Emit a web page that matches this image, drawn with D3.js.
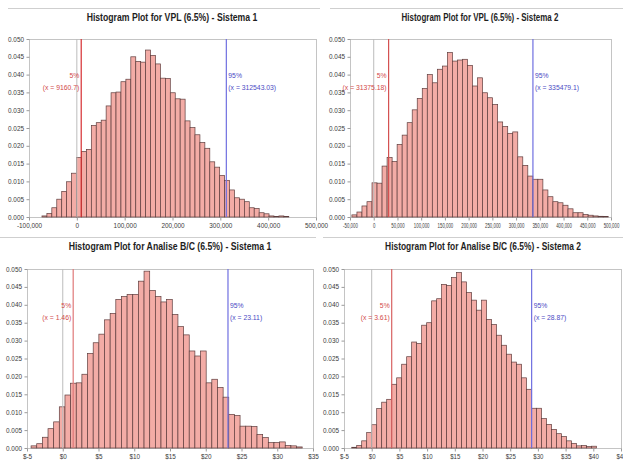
<!DOCTYPE html>
<html>
<head>
<meta charset="utf-8">
<script src="https://cdn.jsdelivr.net/npm/d3@7"></script>
<style>
  html, body { margin: 0; padding: 0; background: #fff; overflow: hidden; }
  svg { display: block; font-family: "Liberation Sans", Arial, sans-serif; }
</style>
</head>
<body>
<svg id="chart" width="623" height="461"></svg>
<script>
// ---- Data ---------------------------------------------------------------
const titles = [
  "Histogram Plot for VPL (6.5%) - Sistema 1",
  "Histogram Plot for VPL (6.5%) - Sistema 2",
  "Histogram Plot for Analise B/C (6.5%) - Sistema 1",
  "Histogram Plot for Analise B/C (6.5%) - Sistema 2"
];

// Relative frequency of each histogram bin
const vplS1Freq = [
  0.0003, 0.0010, 0.0026, 0.0050, 0.0072, 0.0099, 0.0123, 0.0167, 0.0184, 0.0190,
  0.0257, 0.0265, 0.0272, 0.0312, 0.0349, 0.0351, 0.0380, 0.0387, 0.0450, 0.0437,
  0.0435, 0.0469, 0.0454, 0.0430, 0.0390, 0.0389, 0.0349, 0.0332, 0.0331, 0.0270,
  0.0251, 0.0231, 0.0209, 0.0193, 0.0155, 0.0140, 0.0117, 0.0103, 0.0076, 0.0054,
  0.0050, 0.0043, 0.0026, 0.0024, 0.0012, 0.0009, 0.0003, 0.0001, 0.0003, 0.0001
];
const vplS2Freq = [
  0.0006, 0.0014, 0.0031, 0.0043, 0.0096, 0.0095, 0.0143, 0.0167, 0.0156, 0.0204,
  0.0230, 0.0265, 0.0301, 0.0333, 0.0361, 0.0400, 0.0377, 0.0415, 0.0424, 0.0462,
  0.0438, 0.0441, 0.0443, 0.0426, 0.0368, 0.0391, 0.0349, 0.0335, 0.0316, 0.0267,
  0.0254, 0.0235, 0.0239, 0.0169, 0.0145, 0.0115, 0.0106, 0.0106, 0.0076, 0.0057,
  0.0043, 0.0040, 0.0033, 0.0023, 0.0012, 0.0012, 0.0007, 0.0005, 0.0003, 0.0002,
  0.0001
];
const bcS1Freq = [
  0.0006, 0.0012, 0.0030, 0.0054, 0.0073, 0.0115, 0.0148, 0.0181, 0.0182, 0.0206,
  0.0264, 0.0294, 0.0318, 0.0358, 0.0376, 0.0415, 0.0423, 0.0429, 0.0429, 0.0466,
  0.0494, 0.0440, 0.0423, 0.0408, 0.0415, 0.0373, 0.0339, 0.0316, 0.0271, 0.0257,
  0.0271, 0.0182, 0.0192, 0.0169, 0.0142, 0.0094, 0.0091, 0.0061, 0.0061, 0.0060,
  0.0038, 0.0029, 0.0015, 0.0015, 0.0017, 0.0007, 0.0006, 0.0003
];
const bcS2Freq = [
  0.0002, 0.0007, 0.0020, 0.0043, 0.0065, 0.0110, 0.0128, 0.0136, 0.0178, 0.0196,
  0.0234, 0.0255, 0.0296, 0.0292, 0.0343, 0.0350, 0.0411, 0.0417, 0.0457, 0.0454,
  0.0476, 0.0490, 0.0464, 0.0434, 0.0413, 0.0385, 0.0413, 0.0359, 0.0345, 0.0315,
  0.0287, 0.0262, 0.0240, 0.0234, 0.0196, 0.0164, 0.0111, 0.0111, 0.0082, 0.0066,
  0.0052, 0.0040, 0.0032, 0.0020, 0.0013, 0.0006, 0.0007, 0.0004, 0.0005
];
const freqs = [vplS1Freq, vplS2Freq, bcS1Freq, bcS2Freq];

// Lower edge of the first bin and bin width for each histogram
const binStart = [-72900, -45970, -4.43, -3.61];
const binWidth = [10320, 10590, 0.79, 0.902];

// 5% and 95% percentiles
const p5  = [9160.7, 31375.18, 1.46, 3.61];
const p95 = [312543.03, 335479.1, 23.11, 28.87];

// Axis ranges and tick values
const xDomains = [[-100000, 500000], [-50000, 500000], [-5, 35], [-5, 45]];
const vplS1Ticks = [-100000, 0, 100000, 200000, 300000, 400000, 500000];
const vplS2Ticks = [-50000, 0, 50000, 100000, 150000, 200000, 250000, 300000, 350000, 400000, 450000, 500000];
const bcS1Ticks = [-5, 0, 5, 10, 15, 20, 25, 30, 35];
const bcS2Ticks = [-5, 0, 5, 10, 15, 20, 25, 30, 35, 40, 45];
const xTicks = [vplS1Ticks, vplS2Ticks, bcS1Ticks, bcS2Ticks];
const yTicks = [0, 0.005, 0.010, 0.015, 0.020, 0.025, 0.030, 0.035, 0.040, 0.045, 0.050];

// ---- Layout -------------------------------------------------------------
// tw: title width, xs: horizontal squeeze of x tick labels
const panels = [
  { x0: 29,  x1: 316, y0: 39,  y1: 217, tx: 172, ty: 20.5, tw: 171, xs: 1,    money: false, red: "#d62e30" },
  { x0: 350, x1: 611, y0: 39,  y1: 217, tx: 480, ty: 20.5, tw: 157, xs: 0.68, money: false, red: "#d45050" },
  { x0: 27,  x1: 313, y0: 269, y1: 448, tx: 170, ty: 250,  tw: 203, xs: 1,    money: true,  red: "#e07878" },
  { x0: 344, x1: 621, y0: 269, y1: 448, tx: 483, ty: 250,  tw: 196, xs: 0.95, money: true,  red: "#d86262" }
];

const fillBar = "#f3aca6", strokeBar = "#5e3d3d";
const blueLine = "#6f6fe0", zeroLine = "#bcbcbc";
const redText = "#d24a4a", blueText = "#4b4bc4";

const locale = d3.formatLocale({ decimal: ".", thousands: ",", grouping: [3], currency: ["$", ""], minus: "-" });
const fmtComma = locale.format(",");
const fmtY = locale.format(".3f");

const svg = d3.select("#chart");

// Separator rules above each row of charts
const rules = [
  [8, 320, 8], [330, 623, 8], [0, 316, 237], [323, 623, 237]
];
svg.selectAll("line.rule").data(rules).join("line")
  .attr("class", "rule")
  .attr("x1", d => d[0]).attr("x2", d => d[1])
  .attr("y1", d => d[2] + 0.5).attr("y2", d => d[2] + 0.5)
  .attr("stroke", "#cfcfcf").attr("stroke-width", 1);

panels.forEach((p, k) => {
  const g = svg.append("g");
  const x = d3.scaleLinear().domain(xDomains[k]).range([p.x0, p.x1]);
  const y = d3.scaleLinear().domain([0, 0.05]).range([p.y1, p.y0]);

  // Title, condensed horizontally to the panel's title width
  const title = g.append("text")
    .attr("text-anchor", "middle")
    .attr("font-size", 11).attr("font-weight", "bold")
    .attr("fill", "#1e1e1e")
    .text(titles[k]);
  const natural = title.node().getComputedTextLength();
  title.attr("transform", `translate(${p.tx},${p.ty}) scale(${p.tw / natural},1)`);

  // Plot frame
  g.append("rect")
    .attr("x", p.x0 + 0.5).attr("y", p.y0 + 0.5)
    .attr("width", p.x1 - p.x0).attr("height", p.y1 - p.y0)
    .attr("fill", "#fff").attr("stroke", "#c4c4c4").attr("stroke-width", 1);

  // Histogram bars
  const bins = freqs[k].map((f, i) => ({
    lo: binStart[k] + i * binWidth[k],
    hi: binStart[k] + (i + 1) * binWidth[k],
    f
  }));
  g.append("g").selectAll("rect").data(bins).join("rect")
    .attr("x", d => x(d.lo))
    .attr("width", d => x(d.hi) - x(d.lo))
    .attr("y", d => y(d.f))
    .attr("height", d => y(0) - y(d.f))
    .attr("fill", fillBar)
    .attr("stroke", strokeBar)
    .attr("stroke-width", 0.7);

  // Reference lines: zero, 5% and 95%
  const vline = (v, color, w) => g.append("line")
    .attr("x1", x(v)).attr("x2", x(v))
    .attr("y1", p.y0).attr("y2", p.y1)
    .attr("stroke", color).attr("stroke-width", w);
  vline(0, zeroLine, 1);
  vline(p5[k], p.red, 1.2);
  vline(p95[k], blueLine, 1.2);

  // Percentile annotations
  const ann = (v, txt, color, anchor, dx, dy) => g.append("text")
    .attr("x", x(v) + dx).attr("y", p.y0 + dy)
    .attr("text-anchor", anchor)
    .attr("font-size", 6.8).attr("fill", color)
    .text(txt);
  ann(p5[k], "5%", redText, "end", -2, 39);
  ann(p5[k], `(x = ${p5[k]})`, redText, "end", -2, 51);
  ann(p95[k], "95%", blueText, "start", 2, 39);
  ann(p95[k], `(x = ${p95[k]})`, blueText, "start", 2, 51);

  // Axes
  const xAxis = d3.axisBottom(x)
    .tickValues(xTicks[k])
    .tickSize(3).tickPadding(3)
    .tickFormat(v => p.money ? "$" + v : fmtComma(v));
  const ax = g.append("g").attr("transform", `translate(0,${p.y1 + 0.5})`).call(xAxis);

  const yAxis = d3.axisLeft(y)
    .tickValues(yTicks)
    .tickSize(3).tickPadding(2.5)
    .tickFormat(fmtY);
  const ay = g.append("g").attr("transform", `translate(${p.x0 + 0.5},0)`).call(yAxis);

  [ax, ay].forEach(a => {
    a.select(".domain").remove();
    a.selectAll(".tick line").attr("stroke", "#9a9a9a");
    a.selectAll(".tick text")
      .attr("font-size", 6.4)
      .attr("font-family", "\"Liberation Sans\", Arial, sans-serif")
      .attr("fill", "#3a3a3a");
  });
  ax.selectAll(".tick text").attr("transform", `scale(${p.xs},1)`);
});
</script>
</body>
</html>
